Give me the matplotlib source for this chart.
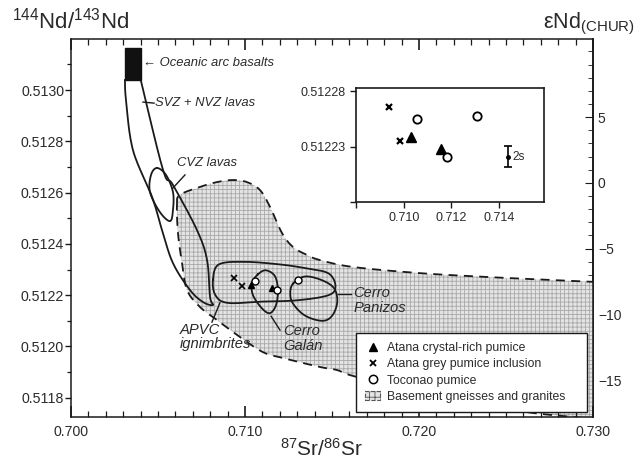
import numpy as np
import matplotlib
matplotlib.use("Agg")
import matplotlib.pyplot as plt
from matplotlib.patches import Polygon, Rectangle, Patch
from matplotlib.lines import Line2D
from matplotlib.ticker import MultipleLocator

plt.rcParams['font.family'] = ['Liberation Sans', 'DejaVu Sans']
plt.rcParams['mathtext.fontset'] = 'custom'
plt.rcParams['mathtext.rm'] = 'Liberation Sans'
plt.rcParams['mathtext.it'] = 'Liberation Sans:italic'
plt.rcParams['mathtext.default'] = 'regular'
plt.rcParams['hatch.linewidth'] = 0.6

# ---------------- data ----------------
# Sample points (87Sr/86Sr, 143Nd/144Nd)
atana_crystal_x = [0.71032, 0.71158]
atana_crystal_y = [0.512239, 0.512228]
atana_grey_x = [0.70939, 0.70985]
atana_grey_y = [0.512266, 0.512235]
toconao_x = [0.71057, 0.71182, 0.71307]
toconao_y = [0.512255, 0.512221, 0.512258]
err_x = [0.71436]
err_y = [0.512221]
err_2s = [0.0000095]

# Oceanic arc basalts box (x0, x1, y0, y1)
oab_box = [0.70310, 0.70401, 0.513039, 0.513164]

# Arc envelope (left line top->bottom, then right line bottom->top)
arc_x = [0.70310, 0.70316, 0.70356, 0.70466, 0.70523, 0.70586, 0.70684, 0.70759, 0.70816,
         0.70799, 0.70782, 0.70724, 0.70586, 0.70529, 0.70401]
arc_y = [0.513039, 0.512961, 0.512766, 0.512583, 0.512454, 0.512325, 0.512220, 0.512173, 0.512162,
         0.512193, 0.512337, 0.512454, 0.512630, 0.512688, 0.513039]

# CVZ lavas field
cvz_x = [0.70494, 0.70546, 0.70586, 0.70586, 0.70569, 0.70511, 0.70454, 0.70460]
cvz_y = [0.512696, 0.512669, 0.512602, 0.512532, 0.512489, 0.512524, 0.512602, 0.512669]

# Basement gneisses and granites field
base_x = [0.70609, 0.70626, 0.70741, 0.70839, 0.70931, 0.71011, 0.71086, 0.71144, 0.71213,
          0.71276, 0.71356, 0.71431, 0.71621, 0.72006, 0.72391, 0.72770, 0.73040, 0.73300,
          0.73300, 0.73040, 0.72885, 0.72580, 0.72121, 0.71644, 0.71529, 0.71431, 0.71218,
          0.71103, 0.70971, 0.70839, 0.70741, 0.70667, 0.70638, 0.70615]
base_y = [0.512552, 0.512591, 0.512622, 0.512641, 0.512649, 0.512641, 0.512610, 0.512544, 0.512442,
          0.512388, 0.512357, 0.512337, 0.512310, 0.512286, 0.512271, 0.512259, 0.512251, 0.512245,
          0.511690, 0.511715, 0.511725, 0.511748, 0.511807, 0.511881, 0.511908, 0.511920, 0.511955,
          0.511978, 0.512037, 0.512103, 0.512154, 0.512220, 0.512325, 0.512442]

# APVC ignimbrites field (rounded box)
apvc_x = [0.70816, 0.70850, 0.71000, 0.71200, 0.71350, 0.71480, 0.71520, 0.71480, 0.71300,
          0.71100, 0.70900, 0.70830]
apvc_y = [0.512260, 0.512320, 0.512330, 0.512320, 0.512305, 0.512285, 0.512235, 0.512200, 0.512180,
          0.512175, 0.512170, 0.512200]

# Cerro Galan field
galan_x = [0.71074, 0.71120, 0.71172, 0.71189, 0.71178, 0.71143, 0.71097, 0.71046, 0.71040]
galan_y = [0.512281, 0.512297, 0.512274, 0.512219, 0.512161, 0.512130, 0.512149, 0.512200, 0.512247]

# Cerro Panizos field
pan_x = [0.71277, 0.71346, 0.71444, 0.71513, 0.71530, 0.71501, 0.71444, 0.71346, 0.71277, 0.71260]
pan_y = [0.512246, 0.512273, 0.512258, 0.512226, 0.512173, 0.512120, 0.512100, 0.512120, 0.512166, 0.512207]

x_ticks = [0.700, 0.710, 0.720, 0.730]
y_ticks = [0.5118, 0.5120, 0.5122, 0.5124, 0.5126, 0.5128, 0.5130]
eps_ticks = [-15, -10, -5, 0, 5]
inset_x_ticks = [0.708, 0.710, 0.712, 0.714]
inset_x_labels = ['', '0.710', '0.712', '0.714']
inset_y_ticks = [0.51218, 0.51223, 0.51228]
inset_y_labels = ['', '0.51223', '0.51228']
legend_labels = ['Atana crystal-rich pumice', 'Atana grey pumice inclusion', 'Toconao pumice',
                 'Basement gneisses and granites']

CHUR = 0.512638

XLIM = (0.700, 0.730)
YLIM = (0.511725, 0.513199)


def smooth(xs, ys, closed, n=14):
    sx = (XLIM[1] - XLIM[0]) / 522.0
    sy = (YLIM[1] - YLIM[0]) / 378.0
    P = np.column_stack([np.asarray(xs) / sx, np.asarray(ys) / sy])
    if closed:
        P = np.vstack([P[-1], P, P[0], P[1]])
    else:
        P = np.vstack([P[0], P, P[-1]])
    out = []
    t = np.linspace(0, 1, n, endpoint=False)[:, None]
    for i in range(1, len(P) - 2):
        p0, p1, p2, p3 = P[i - 1], P[i], P[i + 1], P[i + 2]
        seg = 0.5 * (2 * p1 + (-p0 + p2) * t + (2 * p0 - 5 * p1 + 4 * p2 - p3) * t ** 2
                     + (-p0 + 3 * p1 - 3 * p2 + p3) * t ** 3)
        out.append(seg)
    out.append(P[-2][None])
    Q = np.vstack(out)
    return Q[:, 0] * sx, Q[:, 1] * sy


fig = plt.figure(figsize=(6.39, 4.62), dpi=100)
ax = fig.add_axes([71 / 639, 1 - 417 / 462, 522 / 639, 378 / 462])
ax.set_xlim(*XLIM)
ax.set_ylim(*YLIM)

ink = '#1a1a1a'
txt = '#2a2a2a'

# basement field
bx, by = smooth(base_x, base_y, True)
ax.add_patch(Polygon(np.column_stack([bx, by]), closed=True, facecolor='#e4e4e4',
                     edgecolor='#a9a9a9', hatch='++++', lw=0, zorder=1))
ax.add_patch(Polygon(np.column_stack([bx, by]), closed=True, fill=False,
                     edgecolor=ink, lw=1.3, ls=(0, (5, 3.5)), zorder=2))

# oceanic arc basalts
ax.add_patch(Rectangle((oab_box[0], oab_box[2]), oab_box[1] - oab_box[0], oab_box[3] - oab_box[2],
                       facecolor='#111111', edgecolor='#111111', zorder=4))

# arc envelope
axx, ayy = smooth(arc_x, arc_y, False)
ax.plot(axx, ayy, color=ink, lw=1.3, zorder=3)

# CVZ
cx, cy = smooth(cvz_x, cvz_y, True)
ax.plot(cx, cy, color=ink, lw=1.3, zorder=3)

# APVC box
px_, py_ = smooth(apvc_x, apvc_y, True)
ax.plot(px_, py_, color=ink, lw=1.3, zorder=3)

# Galan
gx, gy = smooth(galan_x, galan_y, True)
ax.plot(gx, gy, color=ink, lw=1.3, zorder=3)

# Panizos
zx, zy = smooth(pan_x, pan_y, True)
ax.plot(zx, zy, color=ink, lw=1.3, zorder=3)

# points
ax.plot(atana_crystal_x, atana_crystal_y, ls='', marker='^', color='k', ms=5, zorder=5)
ax.plot(atana_grey_x, atana_grey_y, ls='', marker='x', color='k', ms=4, mew=1.2, zorder=5)
ax.plot(toconao_x, toconao_y, ls='', marker='o', mfc='white', mec='k', ms=5, mew=1.0, zorder=5)

# labels
fs_lab = 9.4
fs_big = 10.6
ax.text(0.70414, 0.513105, '\u2190 Oceanic arc basalts', style='italic', fontsize=fs_lab,
        color=txt, va='center', ha='left')
ax.plot([0.70414, 0.70477], [0.512953, 0.512949], color=ink, lw=1.0)
ax.text(0.70483, 0.512949, 'SVZ + NVZ lavas', style='italic', fontsize=fs_lab, color=txt,
        va='center', ha='left')
ax.plot([0.70586, 0.70655], [0.512618, 0.512669], color=ink, lw=1.0)
ax.text(0.70609, 0.512715, 'CVZ lavas', style='italic', fontsize=fs_lab, color=txt,
        va='center', ha='left')
ax.plot([0.70810, 0.70856], [0.512095, 0.512170], color=ink, lw=1.0)
ax.text(0.70626, 0.512037, 'APVC\nignimbrites', style='italic', fontsize=fs_big, color=txt,
        va='center', ha='left', linespacing=1.05)
ax.plot([0.71150, 0.71201], [0.512118, 0.512064], color=ink, lw=1.0)
ax.text(0.71218, 0.512031, 'Cerro\nGal\u00e1n', style='italic', fontsize=fs_big, color=txt,
        va='center', ha='left', linespacing=1.05)
ax.plot([0.71532, 0.71609], [0.512205, 0.512205], color=ink, lw=1.0)
ax.text(0.71621, 0.512180, 'Cerro\nPanizos', style='italic', fontsize=fs_big, color=txt,
        va='center', ha='left', linespacing=1.05)

# ticks main
ax.set_xticks(x_ticks)
ax.set_xticklabels(['%.3f' % v for v in x_ticks])
ax.xaxis.set_minor_locator(MultipleLocator(0.001))
ax.set_yticks(y_ticks)
ax.set_yticklabels(['%.4f' % v for v in y_ticks])
ax.yaxis.set_minor_locator(MultipleLocator(0.0001))
ax.tick_params(axis='x', which='both', direction='in', top=True, bottom=True, colors=ink,
               labelcolor=txt, labelsize=10.2, pad=6)
ax.tick_params(axis='x', which='major', length=8, width=1.2)
ax.tick_params(axis='x', which='minor', length=4, width=0.9)
ax.tick_params(axis='y', which='both', direction='out', left=True, right=False, colors=ink,
               labelcolor=txt, labelsize=10.2, pad=0.5)
ax.tick_params(axis='y', which='major', length=4.5, width=1.0)
ax.tick_params(axis='y', which='minor', length=3, width=0.9)
for s in ax.spines.values():
    s.set_linewidth(1.1)
    s.set_color(ink)

sec = ax.secondary_yaxis('right', functions=(lambda r: (r / CHUR - 1) * 1e4,
                                              lambda e: (e / 1e4 + 1) * CHUR))
sec.set_yticks(eps_ticks)
sec.yaxis.set_minor_locator(MultipleLocator(1))
sec.tick_params(which='both', direction='in', colors=ink, labelcolor=txt, labelsize=10)
sec.tick_params(which='major', length=6)
sec.tick_params(which='minor', length=3.5)
sec.spines['right'].set_linewidth(1.1)

# axis titles
fig.text(12 / 639, 1 - 28 / 462, '$^{144}$Nd/$^{143}$Nd', fontsize=16, color=txt,
         ha='left', va='baseline')
fig.text(543 / 639, 1 - 28 / 462, '\u03b5Nd$_{(CHUR)}$', fontsize=15.5, color=txt,
         ha='left', va='baseline')
fig.text(280 / 639, 1 - 456 / 462, '$^{87}$Sr/$^{86}$Sr', fontsize=15, color=txt,
         ha='left', va='baseline')

# legend
handles = [
    Line2D([], [], ls='', marker='^', color='k', ms=6),
    Line2D([], [], ls='', marker='x', color='k', ms=5, mew=1.3),
    Line2D([], [], ls='', marker='o', mfc='white', mec='k', ms=6, mew=1.1),
    Patch(facecolor='#e4e4e4', edgecolor='#555555', hatch='+++', ls='--', lw=0.8),
]
leg = ax.legend(handles, legend_labels, loc='lower left',
                bbox_to_anchor=(0.546, 0.0132, 0.4425, 0.2117),
                mode='expand', fontsize=8.8, frameon=True, fancybox=False, framealpha=1,
                edgecolor=ink, labelspacing=0.35, borderpad=0.75, handlelength=1.2,
                handletextpad=0.6, borderaxespad=0)
leg.get_frame().set_linewidth(1.0)
for t in leg.get_texts():
    t.set_color(txt)
leg.set_zorder(10)

# inset
ins = fig.add_axes([356 / 639, 1 - 202 / 462, 188 / 639, 114 / 462])
ins.set_xlim(0.70804, 0.71588)
ins.set_ylim(0.51218, 0.512283)
ins.plot(atana_crystal_x, atana_crystal_y, ls='', marker='^', color='k', ms=7)
ins.plot(atana_grey_x, atana_grey_y, ls='', marker='x', color='k', ms=4.5, mew=1.6)
ins.plot(toconao_x, toconao_y, ls='', marker='o', mfc='white', mec='k', ms=6, mew=1.3)
ins.errorbar(err_x, err_y, yerr=err_2s, fmt='o', color='k', ms=2.5, capsize=3, elinewidth=1.2,
             capthick=1.2)
ins.text(err_x[0] + 0.00018, err_y[0], '2s', fontsize=8.5, color=txt, va='center', ha='left')
ins.set_xticks(inset_x_ticks)
ins.set_xticklabels(inset_x_labels)
ins.set_yticks(inset_y_ticks)
ins.set_yticklabels(inset_y_labels)
ins.tick_params(which='both', direction='out', length=4, width=1.0, colors=ink,
                labelcolor=txt, labelsize=9)
for s in ins.spines.values():
    s.set_linewidth(1.2)
    s.set_color(ink)

fig.savefig('out.png', dpi=100)
